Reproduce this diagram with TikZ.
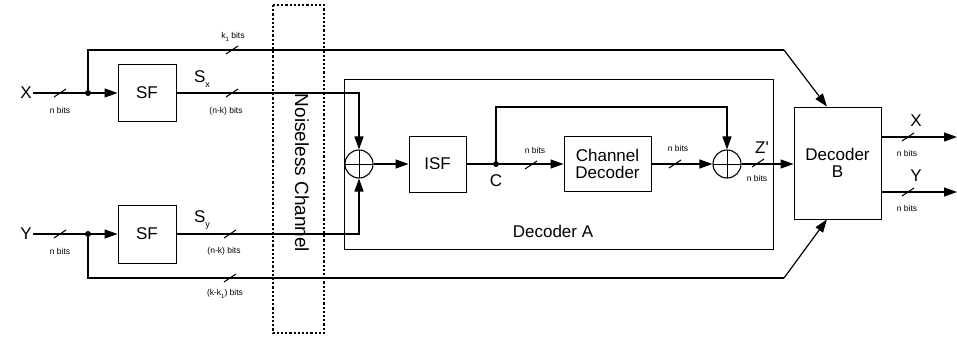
\documentclass[tikz,border=0pt]{standalone}
\usepackage{fontspec}
\setmainfont{Liberation Sans}
\usetikzlibrary{arrows.meta, positioning, calc}

\newcommand{\bigtxt}{\fontsize{17}{19}\selectfont}
\newcommand{\smalltxt}{\fontsize{8.5}{10}\selectfont}
\newcommand{\subtxt}[1]{\raisebox{-2.5pt}{\fontsize{6}{7}\selectfont #1}}

\tikzset{
  wire/.style={line width=1.2pt},
  arr/.style={wire, -{Triangle[length=13pt, width=9pt]}},
  blk/.style={draw, line width=0.9pt, font=\bigtxt, align=center, inner sep=0pt},
  sumnode/.style={circle, draw, line width=1.1pt, minimum size=28pt, inner sep=0pt,
    path picture={\draw[line width=1pt]
      (path picture bounding box.north) -- (path picture bounding box.south)
      (path picture bounding box.west) -- (path picture bounding box.east);}},
  jdot/.style={circle, fill, minimum size=6pt, inner sep=0pt},
  lbl/.style={font=\bigtxt, inner sep=1pt},
  bits/.style={font=\smalltxt, inner sep=0pt}
}

\begin{document}
\begin{tikzpicture}[x=1pt, y=-1pt]
  \useasboundingbox (0,0) rectangle (957,343);

  % channel
  \draw[dotted, line width=2.2pt] (273,5) rectangle (324,333);
  \node[rotate=-90, font=\fontsize{19}{21}\selectfont] (chan) at (302,173) {Noiseless Channel};

  % decoder A frame
  \node[draw, line width=0.9pt, minimum width=429pt, minimum height=170pt] (deca) at (558.5,164) {};
  \node[font=\bigtxt] (decalbl) at (553,231) {Decoder A};

  % blocks
  \node[blk, minimum width=58pt, minimum height=57pt] (sfx) at (147,93) {SF};
  \node[blk, minimum width=58pt, minimum height=58pt] (sfy) at (147,234) {SF};
  \node[blk, minimum width=57pt, minimum height=56pt] (isf) at (437.5,164) {ISF};
  \node[blk, minimum width=87pt, minimum height=55pt] (chd) at (607.5,164) {Channel\\[-2pt]Decoder};
  \node[blk, minimum width=87pt, minimum height=112pt] (decb) at (837.5,163) {Decoder\\[-2pt]B};
  \node[sumnode] (s1) at (359,164) {};
  \node[sumnode] (s2) at (727,164) {};

  % inputs, junctions
  \node[lbl, anchor=east] (xin) at (33,93) {X};
  \node[lbl, anchor=east] (yin) at (33,234) {Y};
  \node[jdot] (jx) at (88,93) {};
  \node[jdot] (jy) at (88,234) {};
  \node[jdot] (c) at (496,164) {};
  \node[lbl] (clbl) at (496,181) {C};
  \coordinate (kx) at (784,50);
  \coordinate (ky) at (784,278);
  \coordinate (xout) at (957,137);
  \coordinate (yout) at (957,192);

  % connectors
  \draw[arr] (xin.east) -- (sfx.west);
  \draw[arr] (yin.east) -- (sfy.west);
  \draw[wire] (jx) |- (kx);
  \draw[arr] (kx) -- ($(decb.north west)!0.38!(decb.north east)$);
  \draw[wire] (jy) |- (ky);
  \draw[arr] (ky) -- ($(decb.south west)!0.38!(decb.south east)$);
  \draw[arr] (sfx.east) -| (s1.north);
  \draw[arr] (sfy.east) -| (s1.south);
  \draw[arr] (s1.east) -- (isf.west);
  \draw[wire] (isf.east) -- (c);
  \draw[arr] (c) -- (chd.west);
  \draw[arr] (c) -- ++(0,-57) -| (s2.north);
  \draw[arr] (chd.east) -- (s2.west);
  \draw[arr] (s2.east) -- (s2.east -| decb.west);
  \draw[arr] (decb.east |- xout) -- (xout);
  \draw[arr] (decb.east |- yout) -- (yout);

  % bit-width slashes
  \foreach \sx/\sy in {60/93, 60/234, 232/50, 232/93, 230/234, 230/278,
                       531/165, 675/164, 758/163, 908/137, 908/192}{%
    \draw[line width=1pt] (\sx-6,\sy+4) -- (\sx+6,\sy-4);
  }

  % labels
  \node[bits] (nbx) at (60,110) {n bits};
  \node[bits] (nby) at (60,251) {n bits};
  \node[bits] (k1) at (233,37) {k\subtxt{1} bits};
  \node[bits] (nkx) at (226,111) {(n-k) bits};
  \node[bits] (nky) at (224,251) {(n-k) bits};
  \node[bits] (kk1) at (225,294) {(k-k\subtxt{1}) bits};
  \node[lbl] (sxl) at (202,79) {S\raisebox{-5pt}{\fontsize{9}{10}\selectfont x}};
  \node[lbl] (syl) at (202,220) {S\raisebox{-5pt}{\fontsize{9}{10}\selectfont y}};
  \node[bits] (nbc) at (535,150) {n bits};
  \node[bits] (nbd) at (678,148) {n bits};
  \node[lbl] (zl) at (762,148) {Z\textquotesingle};
  \node[bits] (nbz) at (757,178) {n bits};
  \node[lbl] (xol) at (916,121) {X};
  \node[bits] (nbxo) at (907,153) {n bits};
  \node[lbl] (yol) at (916,176) {Y};
  \node[bits] (nbyo) at (907,208) {n bits};
\end{tikzpicture}
\end{document}
